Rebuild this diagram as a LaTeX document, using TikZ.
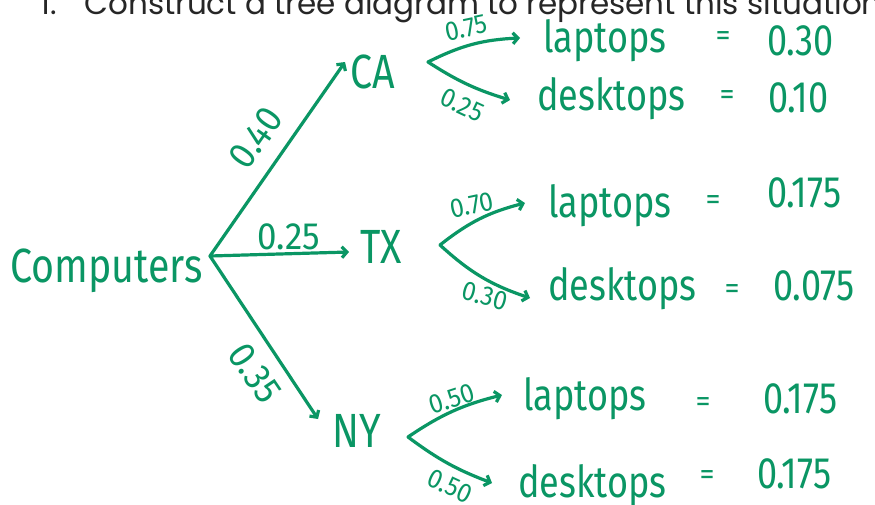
\documentclass[tikz,border=0pt]{standalone}
\usepackage{fontspec}
\usepackage{graphicx}
\usetikzlibrary{arrows.meta}
\newfontfamily\hwfont{Fira Sans}
\newfontfamily\headfont{Poppins}
\definecolor{ink}{RGB}{10,150,100}
\newcommand\hs[1]{\scalebox{0.82}[1]{#1}}
\newcommand\hl[1]{\scalebox{0.92}[1]{#1}}
\tikzset{
  big/.style={text=ink, inner sep=0, anchor=base west, font=\hwfont\fontsize{48}{48}\selectfont},
  word/.style={text=ink, inner sep=0, anchor=base west, font=\hwfont\fontsize{44}{44}\selectfont},
  eq/.style={text=ink, inner sep=0, font=\hwfont\fontsize{30}{30}\selectfont},
  lab/.style={text=ink, inner sep=0, font=\hwfont\fontsize{38}{38}\selectfont},
  slab/.style={text=ink, inner sep=0, font=\hwfont\fontsize{27}{27}\selectfont},
  br/.style={draw=ink, line width=3.2pt, line cap=round, line join=round,
    -{Straight Barb[length=5pt,width=11pt]}},
}
\begin{document}
\begin{tikzpicture}[x=1pt,y=-1pt]
\useasboundingbox (0,0) rectangle (875,504);
\clip (0,0) rectangle (875,504);
\fill[white] (0,0) rectangle (875,504);
% header (cut off)
\node[anchor=base west, inner sep=0, text=black!85, font=\headfont\fontsize{31}{31}\selectfont] (title) at (40,14) {1.\hspace{0.9em}Construct a tree diagram to represent this situation};
% main nodes
\node[big] (comp) at (10,282) {\hs{Computers}};
\coordinate (root) at (210,256);
\node[big] (ca) at (350,88) {\hs{CA}};
\node[big] (tx) at (360,263) {\hs{TX}};
\node[big] (ny) at (332,447) {\hs{NY}};
\coordinate (caend) at (345,62);
\coordinate (txend) at (349,252);
\coordinate (nyend) at (318,419);
\draw[br] (root) -- (caend);
\draw[br] (root) -- (txend);
\draw[br] (root) -- (nyend);
\node[lab, rotate=55] (p40) at (256,138) {\hl{0.40}};
\node[lab] (p25) at (289,237) {\hl{0.25}};
\node[lab, rotate=-56] (p35) at (255,373) {\hl{0.35}};
% CA branches
\coordinate (caf) at (428,62);
\coordinate (cal) at (520,38);
\coordinate (cad) at (510,100);
\draw[br] (caf) to[bend left=12] (cal);
\draw[br] (caf) to[bend right=8] (cad);
\node[slab, rotate=12] (ca75) at (466,28) {\hl{0.75}};
\node[slab, rotate=-25] (ca25) at (462,105) {\hl{0.25}};
\node[word] (cal1) at (543,52) {\hs{laptops}};
\node[eq] (cae1) at (723,39) {=};
\node[word] (can1) at (767,55) {\hs{0.30}};
\node[word] (cad1) at (537,110) {\hs{desktops}};
\node[eq] (cae2) at (727,98) {=};
\node[word] (can2) at (768,112) {\hs{0.10}};
% TX branches
\coordinate (txf) at (440,245);
\coordinate (txl) at (525,203);
\coordinate (txd) at (530,298);
\draw[br] (txf) to[bend left=12] (txl);
\draw[br] (txf) to[bend right=12] (txd);
\node[slab, rotate=12] (tx70) at (472,205) {\hl{0.70}};
\node[slab, rotate=-15] (tx30) at (485,296) {\hl{0.30}};
\node[word] (txl1) at (548,217) {\hs{laptops}};
\node[eq] (txe1) at (713,203) {=};
\node[word] (txn1) at (767,207) {\hs{0.175}};
\node[word] (txd1) at (548,300) {\hs{desktops}};
\node[eq] (txe2) at (732,292) {=};
\node[word] (txn2) at (773,300) {\hs{0.075}};
% NY branches
\coordinate (nyf) at (408,437);
\coordinate (nyl) at (502,395);
\coordinate (nyd) at (492,483);
\draw[br] (nyf) to[bend left=10] (nyl);
\draw[br] (nyf) to[bend right=8] (nyd);
\node[slab, rotate=18] (ny50a) at (452,399) {\hl{0.50}};
\node[slab, rotate=-25] (ny50b) at (450,486) {\hl{0.50}};
\node[word] (nyl1) at (523,410) {\hs{laptops}};
\node[eq] (nye1) at (703,405) {=};
\node[word] (nyn1) at (763,413) {\hs{0.175}};
\node[word] (nyd1) at (518,497) {\hs{desktops}};
\node[eq] (nye2) at (707,478) {=};
\node[word] (nyn2) at (757,488) {\hs{0.175}};
\end{tikzpicture}
\end{document}
